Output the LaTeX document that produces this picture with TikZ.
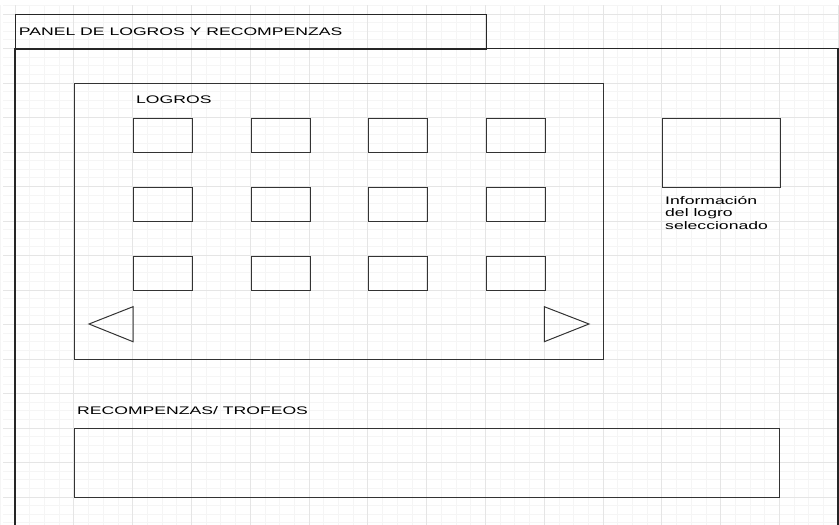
\documentclass[tikz,border=0pt]{standalone}
\usepackage{fontspec}
\setmainfont{Liberation Sans}
\usepackage{graphicx}
\usetikzlibrary{positioning}
\newcommand{\widetxt}[1]{\scalebox{1.6}[1]{#1}}

\begin{document}
\begin{tikzpicture}[x=1pt, y=-1pt, font=\fontsize{11}{12.5}\selectfont,
  minorgrid/.style={draw=black!4, line width=0.8pt},
  majorgrid/.style={draw=black!10, line width=0.9pt},
  frame/.style={draw=black!85, line width=1.4pt},
  box/.style={draw=black!80, line width=1pt, inner sep=0pt, anchor=north west},
  slot/.style={box, minimum width=59pt, minimum height=34.5pt},
  lbl/.style={inner sep=0pt, anchor=west},
  tri/.style={draw=black!80, line width=1pt, line join=miter}]
\useasboundingbox (0,0) rectangle (839,525);
% Grid
\foreach \i in {0,...,57} \draw[minorgrid] ({0.3+14.7*\i},5.4) -- ++(0,520);
\foreach \j in {0,...,60} \draw[minorgrid] (3,{5.375+8.625*\j}) -- ++(836,0);
\foreach \i in {0,...,14} \draw[majorgrid] ({15+58.8*\i},5.4) -- ++(0,520);
\foreach \j in {0,...,14} \draw[majorgrid] (3,{14+34.5*\j}) -- ++(836,0);
% Panel
\draw[frame] (15,530) |- (838,48.5) -- (838,530);
\node[box, frame, minimum width=471pt, minimum height=34.5pt] (title) at (15,14) {};
\node[lbl] (titletxt) at (18.7,31.3) {\widetxt{PANEL DE LOGROS Y RECOMPENZAS}};
% Logros
\node[box, minimum width=529pt, minimum height=276pt] (logros) at (74,83) {};
\node[lbl] (logrostxt) at (136,100) {\widetxt{LOGROS}};
\foreach \r in {1,2,3}
  \foreach \c in {1,...,4}
    \node[slot] (s\r\c) at ({133+117.6*(\c-1)},{117.5+69*(\r-1)}) {};
\draw[tri] (89,324) -- (133,306.7) -- (133,341.7) -- cycle;
\draw[tri] (544.3,306.7) -- (589,324) -- (544.3,341.7) -- cycle;
% Info
\node[box, minimum width=118pt, minimum height=69pt] (info) at (662,117.5) {};
\node[inner sep=0pt, anchor=base west, align=left] (infotxt) at (665,229)
  {\widetxt{Información}\\\widetxt{del logro}\\\widetxt{seleccionado}};
% Recompensas
\node[lbl] (premiostxt) at (77,410.7) {\widetxt{RECOMPENZAS/ TROFEOS}};
\node[box, minimum width=705.4pt, minimum height=69pt] (premios) at (74,428) {};
\end{tikzpicture}
\end{document}
